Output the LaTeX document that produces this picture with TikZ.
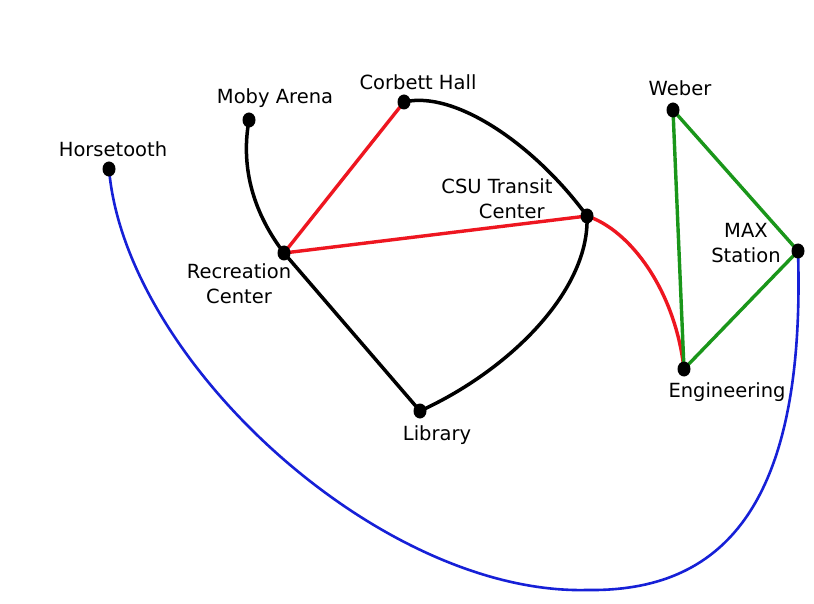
\documentclass[tikz,border=0pt]{standalone}
\usepackage{fontspec}
\setmainfont{DejaVu Sans}
\usetikzlibrary{shapes.geometric}
\definecolor{ered}{RGB}{238,22,32}
\definecolor{egreen}{RGB}{26,150,26}
\definecolor{eblue}{RGB}{22,32,215}
\begin{document}
\begin{tikzpicture}[x=1pt,y=-1pt,
  stopdot/.style={ellipse, fill=black, inner sep=0pt, minimum width=13pt, minimum height=15pt},
  lbl/.style={font=\fontsize{19.5}{25}\selectfont, inner sep=0pt, anchor=base},
  blk/.style={line width=3.5pt, black},
  redl/.style={line width=3.4pt, ered},
  grnl/.style={line width=3.4pt, egreen},
  blul/.style={line width=2.6pt, eblue}]
\useasboundingbox (0,0) rectangle (814,604);
\fill[white] (0,0) rectangle (814,604);
% stops
\coordinate (moby) at (249,120);
\coordinate (corb) at (404,102);
\coordinate (horse) at (109,169);
\coordinate (weber) at (673,110);
\coordinate (csu) at (587,216);
\coordinate (rec) at (284,253);
\coordinate (max) at (798,251);
\coordinate (eng) at (684,369);
\coordinate (lib) at (420,411);
% connectors
\draw[blul] (horse) .. controls (125,360) and (380,595) .. (587,590)
  .. controls (720,592) and (806,510) .. (max);
\draw[blk] (moby) .. controls (240,170) and (255,215) .. (rec);
\draw[blk] (corb) .. controls (455,90) and (535,145) .. (csu);
\draw[blk] (lib) .. controls (510,370) and (590,290) .. (csu);
\draw[blk] (rec) -- (lib);
\draw[redl] (corb) -- (rec);
\draw[redl] (rec) -- (csu);
\draw[redl] (csu) .. controls (630,230) and (675,290) .. (eng);
\draw[grnl] (weber) -- (eng);
\draw[grnl] (weber) -- (max);
\draw[grnl] (max) -- (eng);
% dots
\foreach \n in {moby,corb,horse,weber,csu,rec,max,eng,lib}
  \node[stopdot] (d\n) at (\n) {};
% labels
\node[lbl] (tmoby) at (275,104) {Moby Arena};
\node[lbl] (tcorb) at (418,90) {Corbett Hall};
\node[lbl] (thorse) at (113,157) {Horsetooth};
\node[lbl] (tweber) at (680,96) {Weber};
\node[lbl, align=right] (tcsu) at (497,219) {CSU Transit\\Center\hspace*{8pt}};
\node[lbl, align=center] (trec) at (239,303) {Recreation\\Center};
\node[lbl, align=center] (tmax) at (746,262) {MAX\\Station};
\node[lbl] (teng) at (727,397) {Engineering};
\node[lbl] (tlib) at (437,440) {Library};
\end{tikzpicture}
\end{document}
